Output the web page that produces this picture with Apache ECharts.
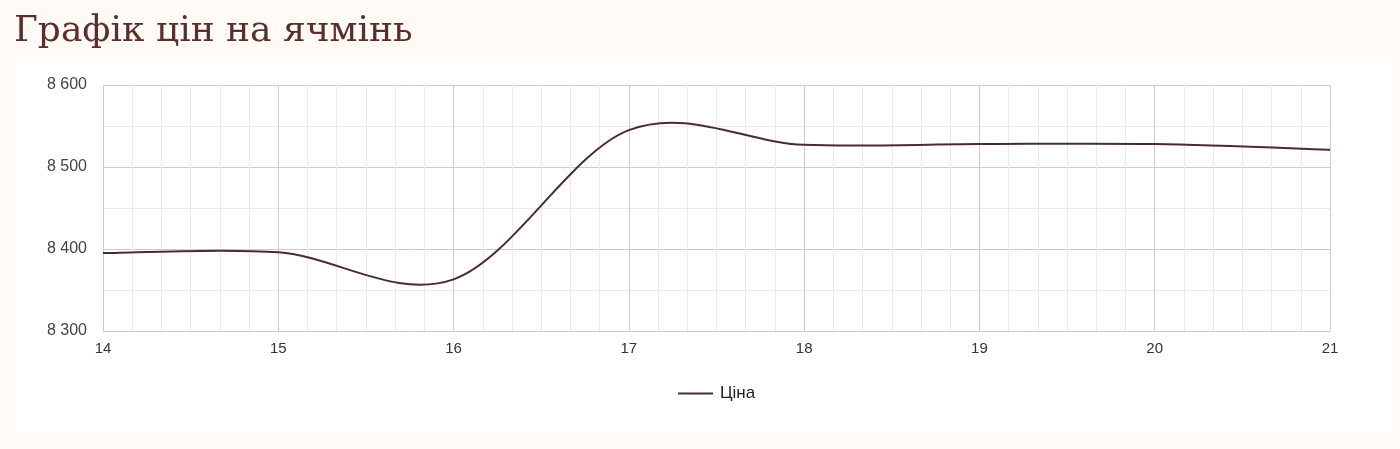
<!DOCTYPE html>
<html>
<head>
<meta charset="utf-8">
<script src="https://cdn.jsdelivr.net/npm/echarts@6/dist/echarts.min.js"></script>
<style>
  html, body { margin: 0; padding: 0; background: #fffaf6; }
  #chart { width: 1400px; height: 449px; }
</style>
</head>
<body>
<div id="chart"></div>
<script>
// days of the month on the x axis
const days = [14, 15, 16, 17, 18, 19, 20, 21];
// barley price, UAH/t
const prices = [8395, 8396, 8363, 8545, 8527, 8528, 8528, 8521];
const seriesName = 'Ціна';
const titleText = 'Графік цін на ячмінь';

const lineColor = '#4a2c2c';
const fmt = v => String(v).replace(/\B(?=(\d{3})+(?!\d))/g, ' ');

// catmull-rom curve through the points, like the original "function" curve
function renderCurve(params, api) {
  if (params.dataIndex !== 0) return;
  const pts = days.map((d, i) => api.coord([d, prices[i]]));
  let path = 'M' + pts[0][0] + ',' + pts[0][1];
  for (let i = 0; i < pts.length - 1; i++) {
    const p0 = pts[i - 1] || pts[i];
    const p1 = pts[i];
    const p2 = pts[i + 1];
    const p3 = pts[i + 2] || pts[i + 1];
    const c1x = p1[0] + (p2[0] - p0[0]) / 6;
    const c1y = p1[1] + (p2[1] - p0[1]) / 6;
    const c2x = p2[0] - (p3[0] - p1[0]) / 6;
    const c2y = p2[1] - (p3[1] - p1[1]) / 6;
    path += ' C' + c1x + ',' + c1y + ' ' + c2x + ',' + c2y + ' ' + p2[0] + ',' + p2[1];
  }
  return {
    type: 'path',
    shape: { pathData: path },
    style: { fill: 'none', stroke: lineColor, lineWidth: 2 }
  };
}

const chart = echarts.init(document.getElementById('chart'));

chart.setOption({
  backgroundColor: 'transparent',
  animation: false,
  title: {
    text: titleText,
    left: 9,
    top: 9,
    textStyle: {
      fontFamily: 'DejaVu Serif',
      fontWeight: 'normal',
      fontSize: 36,
      color: '#5a2e2a'
    }
  },
  graphic: [{
    type: 'rect',
    z: -10,
    silent: true,
    shape: { x: 15, y: 57, width: 1378, height: 375 },
    style: { fill: '#ffffff' }
  }],
  grid: { left: 103, right: 70, top: 85, bottom: 118 },
  legend: {
    top: 385,
    left: 678,
    padding: 0,
    itemWidth: 35,
    itemHeight: 17,
    itemGap: 10,
    icon: 'path://M0,7.5 L35,7.5 L35,9.5 L0,9.5 Z',
    textStyle: { fontFamily: 'Liberation Sans', fontSize: 17, color: '#222', padding: [0, 0, 0, 2] },
    data: [{ name: seriesName, itemStyle: { color: lineColor } }]
  },
  xAxis: {
    type: 'value',
    min: 14,
    max: 21,
    interval: 1,
    axisLine: { show: false },
    axisTick: { show: false },
    axisLabel: { fontFamily: 'Liberation Sans', fontSize: 15, color: '#333', margin: 10 },
    splitLine: { lineStyle: { color: '#cccccc', width: 1 } },
    minorTick: { show: false, splitNumber: 6 },
    minorSplitLine: { show: true, lineStyle: { color: '#ebebeb', width: 1 } }
  },
  yAxis: {
    type: 'value',
    min: 8300,
    max: 8600,
    interval: 100,
    axisLine: { show: false },
    axisTick: { show: false },
    axisLabel: { fontFamily: 'Liberation Sans', fontSize: 16, color: '#444', margin: 16, formatter: fmt },
    splitLine: { lineStyle: { color: '#cccccc', width: 1 } },
    minorTick: { show: false, splitNumber: 2 },
    minorSplitLine: { show: true, lineStyle: { color: '#ebebeb', width: 1 } }
  },
  series: [{
    name: seriesName,
    type: 'custom',
    coordinateSystem: 'cartesian2d',
    renderItem: renderCurve,
    data: days.map((d, i) => [d, prices[i]]),
    encode: { x: 0, y: 1 },
    itemStyle: { color: lineColor },
    clip: true
  }]
});
</script>
</body>
</html>
